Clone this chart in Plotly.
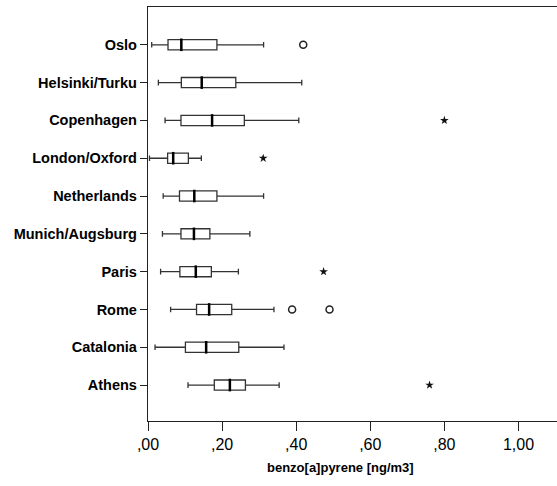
import plotly.graph_objects as go

cities = ["Oslo", "Helsinki/Turku", "Copenhagen", "London/Oxford", "Netherlands",
          "Munich/Augsburg", "Paris", "Rome", "Catalonia", "Athens"]
lower = [0.010, 0.028, 0.046, 0.004, 0.041, 0.039, 0.034, 0.061, 0.019, 0.108]
q1 = [0.054, 0.090, 0.089, 0.053, 0.085, 0.089, 0.086, 0.131, 0.101, 0.179]
median = [0.090, 0.145, 0.173, 0.068, 0.125, 0.124, 0.129, 0.165, 0.157, 0.221]
q3 = [0.186, 0.237, 0.260, 0.109, 0.186, 0.167, 0.171, 0.226, 0.245, 0.263]
upper = [0.312, 0.415, 0.407, 0.144, 0.312, 0.275, 0.244, 0.340, 0.367, 0.354]

circle_city = ["Oslo", "Rome", "Rome"]
circle_val = [0.419, 0.389, 0.490]
star_city = ["Copenhagen", "London/Oxford", "Paris", "Athens"]
star_val = [0.800, 0.311, 0.474, 0.760]

tick_vals = [0, 0.2, 0.4, 0.6, 0.8, 1.0]
tick_text = [",00", ",20", ",40", ",60", ",80", "1,00"]

fig = go.Figure()
fig.add_trace(go.Box(
    y=cities, q1=q1, median=median, q3=q3, lowerfence=lower, upperfence=upper,
    orientation="h", fillcolor="white", line=dict(color="#333333", width=1.3),
    width=0.27, whiskerwidth=0.55, boxpoints=False, showlegend=False, hoverinfo="skip"))
fig.add_trace(go.Scatter(
    x=median, y=cities, mode="markers",
    marker=dict(symbol="line-ns-open", size=9, color="black", line=dict(color="black", width=2.5)),
    showlegend=False, hoverinfo="skip"))
fig.add_trace(go.Scatter(
    x=circle_val, y=circle_city, mode="markers",
    marker=dict(symbol="circle-open", size=7, color="#222", line=dict(width=1.5)),
    showlegend=False))
fig.add_trace(go.Scatter(
    x=star_val, y=star_city, mode="markers",
    marker=dict(symbol="star", size=6.5, color="#111"),
    showlegend=False))

fig.update_layout(
    width=557, height=486, margin=dict(l=148, r=0, t=7, b=65),
    plot_bgcolor="white", paper_bgcolor="white",
    font=dict(family="Liberation Sans, Arial, sans-serif", color="black"),
    xaxis=dict(range=[0, 1.104], tickvals=tick_vals, ticktext=tick_text,
               showgrid=False, zeroline=False, showline=True, linecolor="#222",
               linewidth=1.3, mirror=True, ticks="outside", ticklen=9, tickwidth=1.3,
               tickcolor="#222", tickfont=dict(size=16)),
    yaxis=dict(categoryorder="array", categoryarray=cities, range=[9.95, -1],
               showgrid=False, zeroline=False, showline=True, linecolor="#222",
               linewidth=1.3, ticks="outside", ticklen=7, tickwidth=1.3, tickcolor="#222",
               tickfont=dict(size=14.5), tickprefix="<b>", ticksuffix="</b>"),
    annotations=[dict(text="<b>benzo[a]pyrene [ng/m3]</b>", x=(340 - 148) / (557 - 148),
                      xref="paper", y=-0.135, yref="paper", showarrow=False,
                      font=dict(size=13))],
)
fig.write_html("out.html")
